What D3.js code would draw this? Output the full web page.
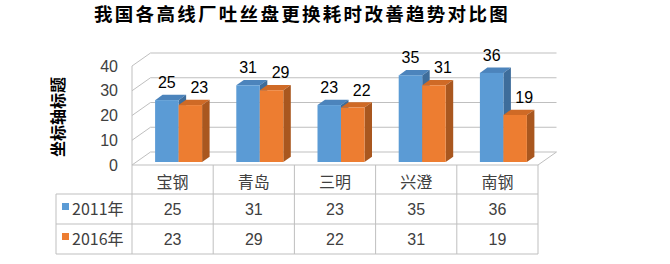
<!DOCTYPE html>
<html>
<head>
<meta charset="utf-8">
<script src="https://cdn.jsdelivr.net/npm/d3@7"></script>
<style>
  body { margin: 0; background: #fff; }
  svg { display: block; }
</style>
</head>
<body>
<script>
// 数据
const categories = ["宝钢", "青岛", "三明", "兴澄", "南钢"];
const seriesNames = ["2011年", "2016年"];
const values2011 = [25, 31, 23, 35, 36];
const values2016 = [23, 29, 22, 31, 19];
const yTicks = [0, 10, 20, 30, 40];
const chartTitle = "我国各高线厂吐丝盘更换耗时改善趋势对比图";
const yTitle = "坐标轴标题";

const series = [
  { name: seriesNames[0], values: values2011, front: "#5B9BD5", top: "#4C84BC", side: "#3E6D9B" },
  { name: seriesNames[1], values: values2016, front: "#ED7D31", top: "#CF6A26", side: "#A9571F" }
];

const W = 670, H = 264;
const cjk = "'Noto Sans CJK SC', 'Noto Sans', sans-serif";
const num = "'Liberation Sans', Arial, sans-serif";
const grid = "#BFBFBF";
const txt = "#404040";

// 3D 深度
const DX = 18.5, DY = -13;
const bdx = 7.5, bdy = -5.3;   // 柱子厚度
const offX = 6, offY = -3;     // 柱子距前平面

const svg = d3.select("body").append("svg")
  .attr("width", W).attr("height", H);

const x = d3.scaleBand().domain(categories).range([132, 538]);
const y = d3.scaleLinear().domain([0, 40]).range([165, 66]);

// 标题
svg.append("text")
  .attr("x", 302).attr("y", 20.5)
  .attr("text-anchor", "middle")
  .style("font-family", cjk).style("font-weight", "bold")
  .style("font-size", "18.5px").style("letter-spacing", "2.3px")
  .attr("fill", "#000")
  .text(chartTitle);

// 墙和网格线
const x0 = x.range()[0], x1 = x.range()[1];
const g = svg.append("g").attr("fill", "none").attr("stroke", grid).attr("stroke-width", 1);

yTicks.forEach(t => {
  const yf = y(t);
  g.append("path").attr("d", `M${x0},${yf}L${x0 + DX},${yf + DY}L${x1 + DX},${yf + DY}`);
});
g.append("line").attr("x1", x0).attr("y1", y(0)).attr("x2", x0).attr("y2", y(40));
// 底面
g.append("path").attr("d", `M${x0},${y(0)}L${x1},${y(0)}L${x1 + DX},${y(0) + DY}`);

// 坐标轴刻度
const axis = svg.append("g")
  .attr("transform", "translate(118,0)")
  .call(d3.axisLeft(y).tickValues(yTicks).tickSize(0).tickPadding(0));
axis.select(".domain").remove();
axis.selectAll("text")
  .style("font-family", num).style("font-size", "16px").attr("fill", txt);

// 纵轴标题
svg.append("text")
  .attr("transform", "translate(64,117) rotate(-90)")
  .attr("text-anchor", "middle")
  .style("font-family", cjk).style("font-weight", "bold").style("font-size", "16px")
  .attr("fill", "#000")
  .text(yTitle);

// 柱子
const bw = 23.5;
const bars = svg.append("g");
categories.forEach((c, i) => {
  const cx = x(c) + x.bandwidth() / 2 + offX;
  series.forEach((s, j) => {
    const v = s.values[i];
    const left = cx - bw + j * bw;
    const right = left + bw;
    const base = y(0) + offY;
    const top = y(v) + offY;
    const bg = bars.append("g");
    bg.append("path")
      .attr("d", `M${left},${top}L${left + bdx},${top + bdy}L${right + bdx},${top + bdy}L${right},${top}Z`)
      .attr("fill", s.top);
    bg.append("path")
      .attr("d", `M${right},${top}L${right + bdx},${top + bdy}L${right + bdx},${base + bdy}L${right},${base}Z`)
      .attr("fill", s.side);
    bg.append("rect")
      .attr("x", left).attr("y", top)
      .attr("width", bw).attr("height", base - top)
      .attr("fill", s.front);
  });
});

// 数据标签
categories.forEach((c, i) => {
  const cx = x(c) + x.bandwidth() / 2 + offX;
  series.forEach((s, j) => {
    const v = s.values[i];
    const lx = cx - bw / 2 + j * bw + (j === 1 ? 9 : 0);
    svg.append("text")
      .attr("x", lx).attr("y", y(v) + offY - 12)
      .attr("text-anchor", "middle")
      .style("font-family", num).style("font-size", "16px")
      .attr("fill", "#000")
      .text(v);
  });
});

// 数据表
const tb = svg.append("g").attr("stroke", grid).attr("stroke-width", 1).attr("fill", "none");
const rowY = [165, 194, 224, 254];
const legX = 56;
[rowY[1], rowY[2], rowY[3]].forEach(ry => {
  tb.append("line").attr("x1", legX).attr("x2", x1).attr("y1", ry).attr("y2", ry);
});
tb.append("line").attr("x1", legX).attr("x2", legX).attr("y1", rowY[1]).attr("y2", rowY[3]);
const colX = categories.map(c => x(c)).concat([x1]);
colX.forEach(cxv => {
  tb.append("line").attr("x1", cxv).attr("x2", cxv).attr("y1", rowY[0]).attr("y2", rowY[3]);
});

svg.append("g").selectAll("text")
  .data(categories).enter().append("text")
  .attr("x", d => x(d) + x.bandwidth() / 2)
  .attr("y", 188)
  .attr("text-anchor", "middle")
  .style("font-family", cjk).style("font-size", "16px")
  .attr("fill", txt)
  .text(d => d);

series.forEach((s, j) => {
  const cy = (rowY[j + 1] + rowY[j + 2]) / 2;
  svg.append("rect")
    .attr("x", 62).attr("y", cy - 6).attr("width", 7).attr("height", 7)
    .attr("fill", s.front);
  svg.append("text")
    .attr("x", 72).attr("y", cy + 6)
    .style("font-family", cjk).style("font-size", "16px")
    .attr("fill", txt)
    .text(s.name);
  svg.append("g").selectAll("text")
    .data(s.values).enter().append("text")
    .attr("x", (d, i) => x(categories[i]) + x.bandwidth() / 2)
    .attr("y", cy + 6)
    .attr("text-anchor", "middle")
    .style("font-family", num).style("font-size", "16px")
    .attr("fill", txt)
    .text(d => d);
});
</script>
</body>
</html>
